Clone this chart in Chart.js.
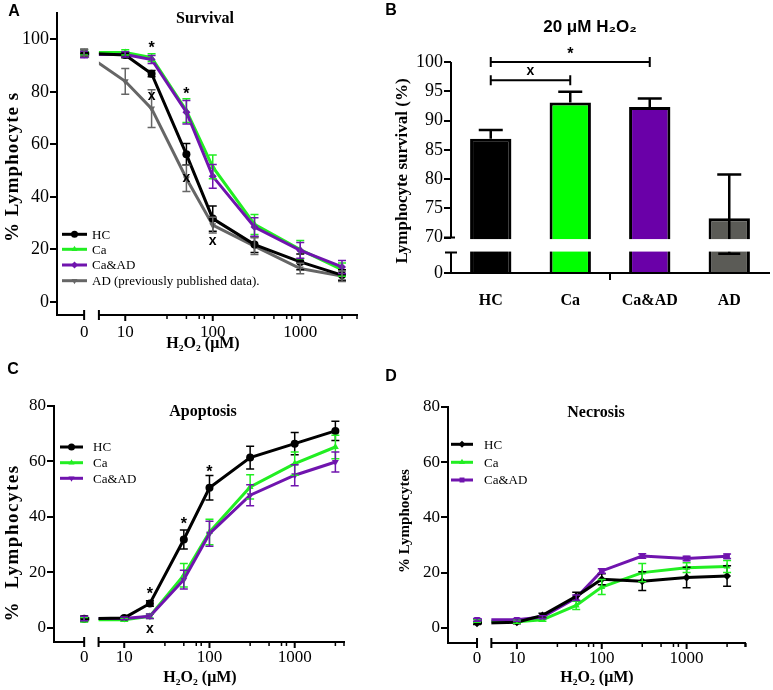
<!DOCTYPE html>
<html>
<head>
<meta charset="utf-8">
<script src="https://cdn.jsdelivr.net/npm/chart.js@4.4.1/dist/chart.umd.min.js"></script>
<style>
  body { margin: 0; background: #fff; }
  #wrap { position: relative; width: 773px; height: 690px; }
  #wrap canvas { position: absolute; left: 0; top: 0; }
</style>
</head>
<body>
<div id="wrap">
  <canvas id="chartA" width="773" height="690"></canvas>
  <canvas id="chartB" width="773" height="690"></canvas>
  <canvas id="chartC" width="773" height="690"></canvas>
  <canvas id="chartD" width="773" height="690"></canvas>
</div>
<script>
const SERIF = '"Liberation Serif", "Times New Roman", serif';
const SANS = '"Liberation Sans", Arial, sans-serif';

// H2O2 concentrations (uM), shared by A, C and D
const concentrations = [0, 10, 20, 50, 100, 300, 1000, 3000];
const xTickLabels = [0, 10, 100, 1000];

// A - survival (%)
const survivalHC = [94.7, 94.0, 86.9, 56.2, 31.7, 21.8, 15.2, 10.2];
const survivalHCErr = [1.5, 1.0, 1.2, 4.1, 4.8, 3.0, 3.0, 2.0];
const survivalCa = [95.0, 95.0, 93.0, 72.8, 51.4, 29.5, 19.9, 12.3];
const survivalCaErr = [1.0, 1.0, 1.5, 4.5, 4.5, 3.8, 3.5, 2.5];
const survivalCaAD = [94.2, 94.2, 92.3, 72.2, 47.8, 28.5, 19.6, 13.3];
const survivalCaADErr = [1.2, 1.0, 1.5, 4.5, 4.5, 3.5, 3.0, 2.5];
const survivalAD = [94.8, 84.0, 73.6, 47.0, 29.2, 21.2, 12.7, 9.8];
const survivalADErr = [1.2, 4.9, 7.2, 5.0, 3.0, 3.2, 2.0, 2.0];
const survivalTicks = [0, 20, 40, 60, 80, 100];

// B - survival at 20 uM
const groupLabels = ['HC', 'Ca', 'Ca&AD', 'AD'];
const barValues = [86.9, 93.1, 92.3, 73.3];
const barErrUp = [1.5, 1.8, 1.45, 7.5];
const barErrDown = [0, 0, 0, 7.5];
const barTicks = [70, 75, 80, 85, 90, 95, 100];

// C - apoptosis (%)
const apoptosisHC = [3.2, 3.5, 8.7, 31.8, 50.5, 61.4, 66.4, 71.0];
const apoptosisHCErr = [1.0, 0.5, 1.0, 3.4, 4.4, 4.1, 4.0, 3.5];
const apoptosisCa = [2.8, 2.8, 4.1, 18.9, 34.5, 50.8, 59.2, 65.2];
const apoptosisCaErr = [0.8, 0.5, 0.8, 4.2, 4.6, 4.4, 4.2, 4.2];
const apoptosisCaAD = [3.3, 3.3, 4.1, 17.3, 33.9, 47.8, 55.0, 59.8];
const apoptosisCaADErr = [0.8, 0.5, 0.8, 3.4, 4.5, 3.8, 3.8, 3.6];

// D - necrosis (%)
const necrosisHC = [1.7, 2.0, 4.5, 11.4, 17.6, 16.9, 18.2, 18.8];
const necrosisHCErr = [0.5, 0.5, 0.8, 1.5, 2.0, 3.4, 3.7, 3.7];
const necrosisCa = [2.5, 2.2, 2.9, 8.1, 14.8, 20.0, 21.8, 22.2];
const necrosisCaErr = [0.5, 0.5, 0.5, 1.5, 2.7, 3.3, 1.8, 2.2];
const necrosisCaAD = [2.9, 2.9, 3.9, 10.9, 20.6, 26.0, 25.1, 25.9];
const necrosisCaADErr = [0.5, 0.5, 0.5, 1.0, 0.8, 0.8, 0.8, 0.8];
const cellTicks = [0, 20, 40, 60, 80];

const HC_COLOR = '#000000';
const CA_COLOR = '#22ee22';
const CAAD_COLOR = '#7014ae';
const AD_COLOR = '#666666';
const BAR_COLORS = ['#000000', '#00ff00', '#6a00a8', '#5b5b56'];

// log axis with a break: 0 sits on its own short segment
const ZERO_POS = 0.53;
const SEG_START = Math.log10(5);
const MINOR = [3, 5, 7, 8];
const xPos = c => c === 0 ? ZERO_POS : Math.log10(c);
const toPoints = vals => vals.map((v, i) => ({ x: xPos(concentrations[i]), y: v }));

// broken y axis of B: 0..70 squeezed under the break
const Y_BASE = 63.95;
const Y_LOW_TOP = 67.44;
const breakY = v => v >= 70 ? v : Y_BASE + v * (Y_LOW_TOP - Y_BASE) / 70;

const textPlugin = {
    id: 'panelText',
    afterDraw(chart, args, opts) {
        const ctx = chart.ctx;
        (opts.items || []).forEach(it => {
            ctx.save();
            ctx.font = it.font;
            ctx.fillStyle = '#000';
            ctx.textAlign = 'center';
            ctx.textBaseline = 'middle';
            if (it.spacing) ctx.letterSpacing = it.spacing;
            ctx.translate(it.x, it.y);
            if (it.rotate) ctx.rotate(it.rotate * Math.PI / 180);
            ctx.fillText(it.text, 0, 0);
            ctx.restore();
        });
    }
};

function drawMark(ctx, text, x, y) {
    const size = text === '*' ? 16 : 14;
    ctx.font = 'bold ' + size + 'px ' + SANS;
    ctx.textAlign = 'center';
    ctx.textBaseline = 'alphabetic';
    ctx.fillStyle = '#000';
    ctx.fillText(text, x, y + size * (text === '*' ? 0.57 : 0.27));
}

const logAxisPlugin = {
    id: 'logAxis',
    beforeDatasetsDraw(chart) {
        const { ctx, scales: { x } } = chart;
        const g0 = x.getPixelForValue(ZERO_POS) + 5;
        const g1 = x.getPixelForValue(SEG_START);
        ctx.save();
        ctx.beginPath();
        ctx.rect(0, 0, g0, chart.height);
        ctx.rect(g1, 0, chart.width - g1, chart.height);
        ctx.clip();
    },
    afterDatasetsDraw(chart, args, opts) {
        const { ctx, chartArea: a, scales: { x, y } } = chart;
        ctx.restore();

        // error bars
        chart.data.datasets.forEach((ds, di) => {
            const meta = chart.getDatasetMeta(di);
            ctx.save();
            ctx.strokeStyle = ds.borderColor;
            ctx.lineWidth = 1.5;
            ds.data.forEach((p, i) => {
                const px = meta.data[i].x;
                const t = y.getPixelForValue(p.y + ds.errors[i]);
                const b = y.getPixelForValue(p.y - ds.errors[i]);
                ctx.beginPath();
                ctx.moveTo(px, t); ctx.lineTo(px, b);
                ctx.moveTo(px - 4, t); ctx.lineTo(px + 4, t);
                ctx.moveTo(px - 4, b); ctx.lineTo(px + 4, b);
                ctx.stroke();
            });
            ctx.restore();
        });

        // broken x axis
        const yb = a.bottom;
        const z = x.getPixelForValue(ZERO_POS);
        const s = x.getPixelForValue(SEG_START);
        ctx.save();
        ctx.strokeStyle = '#000';
        ctx.lineWidth = 2;
        ctx.beginPath();
        ctx.moveTo(a.left - 1, yb); ctx.lineTo(z, yb);
        ctx.moveTo(s, yb); ctx.lineTo(a.right, yb);
        ctx.moveTo(z, yb - 5); ctx.lineTo(z, yb + 5);
        ctx.moveTo(s, yb - 5); ctx.lineTo(s, yb + 5);
        [1, 2, 3].forEach(d => {
            const px = x.getPixelForValue(d);
            ctx.moveTo(px, yb); ctx.lineTo(px, yb + 6);
        });
        ctx.stroke();
        ctx.lineWidth = 1.5;
        ctx.beginPath();
        [10, 100, 1000].forEach(dec => MINOR.forEach(m => {
            const v = Math.log10(m * dec);
            if (v > x.max) return;
            const px = x.getPixelForValue(v);
            ctx.moveTo(px, yb); ctx.lineTo(px, yb + 4);
        }));
        ctx.moveTo(a.right - 1, yb); ctx.lineTo(a.right - 1, yb + 4);
        ctx.stroke();
        ctx.restore();

        // significance marks
        (opts.marks || []).forEach(m => {
            drawMark(ctx, m.t, x.getPixelForValue(xPos(m.c)), y.getPixelForValue(m.v));
        });

        // legend
        const lg = opts.legend;
        chart.data.datasets.forEach((ds, di) => {
            const ly = lg.rows[di];
            ctx.save();
            ctx.strokeStyle = ds.borderColor;
            ctx.fillStyle = ds.borderColor;
            ctx.lineWidth = 3;
            ctx.beginPath();
            ctx.moveTo(lg.x0, ly); ctx.lineTo(lg.x1, ly);
            ctx.stroke();
            Chart.helpers.drawPoint(ctx, { pointStyle: ds.pointStyle, radius: 3.5, rotation: ds.pointRotation || 0, borderWidth: 0 }, (lg.x0 + lg.x1) / 2, ly);
            ctx.font = '13px ' + SERIF;
            ctx.fillStyle = '#000';
            ctx.textAlign = 'left';
            ctx.textBaseline = 'middle';
            ctx.fillText(ds.label, lg.textX, ly + 1);
            ctx.restore();
        });
    }
};

function lineSet(label, values, errors, color, style, rotation, order) {
    return {
        label, errors, order,
        data: toPoints(values),
        borderColor: color,
        backgroundColor: color,
        borderWidth: 3,
        pointStyle: style,
        pointRotation: rotation,
        pointRadius: 4,
        pointBorderWidth: 0,
        tension: 0
    };
}

function makeLineChart(id, cfg) {
    return new Chart(document.getElementById(id), {
        type: 'line',
        data: { datasets: cfg.datasets },
        options: {
            responsive: false,
            animation: false,
            events: [],
            layout: { padding: { left: 0, top: cfg.area.top, right: 773 - cfg.area.right, bottom: 690 - cfg.area.bottom - 40 } },
            plugins: {
                legend: { display: false },
                tooltip: { enabled: false },
                logAxis: { marks: cfg.marks, legend: cfg.legend },
                panelText: { items: cfg.texts }
            },
            scales: {
                x: {
                    type: 'linear',
                    min: cfg.xMin,
                    max: cfg.xMax,
                    afterFit: s => { s.height = 40; },
                    afterBuildTicks: s => { s.ticks = xTickLabels.map(c => ({ value: xPos(c) })); },
                    grid: { display: false, drawTicks: false },
                    border: { display: false },
                    ticks: {
                        autoSkip: false, maxRotation: 0, padding: cfg.xPad, color: '#000',
                        font: { family: SERIF, size: 17 },
                        callback: (v, i) => String(xTickLabels[i])
                    }
                },
                y: {
                    min: cfg.yMin,
                    max: cfg.yMax,
                    afterFit: s => { s.width = cfg.area.left; },
                    afterBuildTicks: s => { s.ticks = cfg.yTicks.map(v => ({ value: v })); },
                    grid: { drawOnChartArea: false, drawTicks: true, tickLength: 7, color: '#000', lineWidth: 2 },
                    border: { display: true, color: '#000', width: 2 },
                    ticks: { padding: 1, color: '#000', font: { family: SERIF, size: cfg.yFont } }
                }
            }
        },
        plugins: [logAxisPlugin, textPlugin]
    });
}

const xTitle = 'H\u2082O\u2082 (\u03bcM)';

// A
makeLineChart('chartA', {
    area: { left: 57, top: 13, right: 358, bottom: 315 },
    xMin: 0.22, xMax: 3.66, yMin: -5, yMax: 110, yTicks: survivalTicks, yFont: 18, xPad: 7,
    datasets: [
        lineSet('HC', survivalHC, survivalHCErr, HC_COLOR, 'circle', 0, 1),
        lineSet('Ca', survivalCa, survivalCaErr, CA_COLOR, 'triangle', 0, 3),
        lineSet('Ca&AD', survivalCaAD, survivalCaADErr, CAAD_COLOR, 'rectRot', 0, 2),
        lineSet('AD (previously published data).', survivalAD, survivalADErr, AD_COLOR, 'triangle', 180, 4)
    ],
    marks: [
        { c: 20, v: 98.4, t: '*' }, { c: 50, v: 80.6, t: '*' },
        { c: 20, v: 78.3, t: 'x' }, { c: 50, v: 47.0, t: 'x' }, { c: 100, v: 23.2, t: 'x' }
    ],
    legend: { rows: [234.3, 249.3, 265, 280.7], x0: 62, x1: 87, textX: 92 },
    texts: [
        { text: 'A', x: 14, y: 12, font: 'bold 16px ' + SANS },
        { text: 'Survival', x: 205, y: 19, font: 'bold 16px ' + SERIF },
        { text: '% Lymphocyte s', x: 13, y: 167, rotate: -90, spacing: '1px', font: 'bold 19px ' + SERIF },
        { text: xTitle, x: 203, y: 344, font: 'bold 16px ' + SERIF }
    ]
});

// C
makeLineChart('chartC', {
    area: { left: 54, top: 406, right: 345, bottom: 642 },
    xMin: 0.176, xMax: 3.59, yMin: -5.2, yMax: 80, yTicks: cellTicks, yFont: 17, xPad: 5,
    datasets: [
        lineSet('HC', apoptosisHC, apoptosisHCErr, HC_COLOR, 'circle', 0, 1),
        lineSet('Ca', apoptosisCa, apoptosisCaErr, CA_COLOR, 'triangle', 0, 3),
        lineSet('Ca&AD', apoptosisCaAD, apoptosisCaADErr, CAAD_COLOR, 'triangle', 180, 2)
    ],
    marks: [
        { c: 20, v: 13.5, t: '*' }, { c: 50, v: 38.8, t: '*' }, { c: 100, v: 57.5, t: '*' },
        { c: 20, v: -0.6, t: 'x' }
    ],
    legend: { rows: [447, 462.7, 478.3], x0: 60, x1: 83, textX: 93 },
    texts: [
        { text: 'C', x: 13, y: 370, font: 'bold 16px ' + SANS },
        { text: 'Apoptosis', x: 203, y: 412, font: 'bold 16px ' + SERIF },
        { text: '%  Lymphocytes', x: 13, y: 543, rotate: -90, spacing: '1.5px', font: 'bold 19px ' + SERIF },
        { text: xTitle, x: 200, y: 678, font: 'bold 16px ' + SERIF }
    ]
});

// D
makeLineChart('chartD', {
    area: { left: 448, top: 407, right: 746, bottom: 643 },
    xMin: 0.188, xMax: 3.70, yMin: -5.5, yMax: 80, yTicks: cellTicks, yFont: 17, xPad: 5,
    datasets: [
        lineSet('HC', necrosisHC, necrosisHCErr, HC_COLOR, 'rectRot', 0, 1),
        lineSet('Ca', necrosisCa, necrosisCaErr, CA_COLOR, 'triangle', 0, 3),
        lineSet('Ca&AD', necrosisCaAD, necrosisCaADErr, CAAD_COLOR, 'rect', 0, 2)
    ],
    marks: [],
    legend: { rows: [444.3, 462.3, 480], x0: 451, x1: 473, textX: 484 },
    texts: [
        { text: 'D', x: 391, y: 377, font: 'bold 16px ' + SANS },
        { text: 'Necrosis', x: 596, y: 413, font: 'bold 16px ' + SERIF },
        { text: '% Lymphocytes', x: 405, y: 521, rotate: -90, font: 'bold 15px ' + SERIF },
        { text: xTitle, x: 597, y: 678, font: 'bold 16px ' + SERIF }
    ]
});

// B
const barBreakPlugin = {
    id: 'barBreak',
    afterDatasetsDraw(chart, args, opts) {
        const { ctx, chartArea: a, scales: { x, y } } = chart;
        const ds = chart.data.datasets[0];
        const meta = chart.getDatasetMeta(0);
        ctx.save();
        ctx.strokeStyle = '#000';
        ctx.lineWidth = 2.5;
        ds.data.forEach((v, i) => {
            const px = meta.data[i].x;
            const top = y.getPixelForValue(v + ds.errUp[i]);
            ctx.beginPath();
            ctx.moveTo(px, y.getPixelForValue(v)); ctx.lineTo(px, top);
            ctx.moveTo(px - 12, top); ctx.lineTo(px + 12, top);
            if (ds.errDown[i] > 0) {
                const bot = y.getPixelForValue(breakY(v - ds.errDown[i]));
                ctx.moveTo(px, y.getPixelForValue(v)); ctx.lineTo(px, bot);
                ctx.moveTo(px - 11, bot); ctx.lineTo(px + 11, bot);
            }
            ctx.stroke();
        });

        // white band of the axis break
        const y70 = y.getPixelForValue(70);
        const yLow = y.getPixelForValue(Y_LOW_TOP);
        ctx.fillStyle = '#fff';
        ctx.fillRect(a.left + 2, y70 + 1.5, a.right - a.left, yLow - y70 - 2.5);

        // broken y axis
        ctx.lineWidth = 2;
        ctx.beginPath();
        ctx.moveTo(a.left, y.getPixelForValue(100)); ctx.lineTo(a.left, y70);
        ctx.moveTo(a.left - 7, y70); ctx.lineTo(a.left + 4, y70);
        ctx.moveTo(a.left, yLow); ctx.lineTo(a.left, a.bottom);
        ctx.moveTo(a.left - 6, yLow); ctx.lineTo(a.left + 6, yLow);
        const mid = (x.getPixelForValue(1) + x.getPixelForValue(2)) / 2;
        ctx.moveTo(mid, a.bottom); ctx.lineTo(mid, a.bottom + 7);
        ctx.stroke();

        // comparison brackets
        ctx.lineWidth = 2;
        (opts.brackets || []).forEach(br => {
            const x0 = x.getPixelForValue(br.from);
            const x1 = x.getPixelForValue(br.to);
            const by = y.getPixelForValue(br.v);
            ctx.beginPath();
            ctx.moveTo(x0, by); ctx.lineTo(x1, by);
            ctx.moveTo(x0, by - 5); ctx.lineTo(x0, by + 5);
            ctx.moveTo(x1, by - 5); ctx.lineTo(x1, by + 5);
            ctx.stroke();
            drawMark(ctx, br.t, (x0 + x1) / 2, by - (br.t === '*' ? 12 : 9));
        });
        ctx.restore();
    }
};

new Chart(document.getElementById('chartB'), {
    type: 'bar',
    data: {
        labels: groupLabels,
        datasets: [{
            data: barValues,
            errUp: barErrUp,
            errDown: barErrDown,
            base: Y_BASE,
            backgroundColor: BAR_COLORS,
            borderColor: '#000',
            borderWidth: 3,
            barPercentage: 0.52,
            categoryPercentage: 1
        }]
    },
    options: {
        responsive: false,
        animation: false,
        events: [],
        layout: { padding: { left: 0, top: 62, right: 4, bottom: 690 - 273 - 45 } },
        plugins: {
            legend: { display: false },
            tooltip: { enabled: false },
            barBreak: {
                brackets: [
                    { from: 0, to: 2, v: 100, t: '*' },
                    { from: 0, to: 1, v: 96.9, t: 'x' }
                ]
            },
            panelText: {
                items: [
                    { text: 'B', x: 391, y: 11, font: 'bold 16px ' + SANS },
                    { text: '20 \u03bcM H\u2082O\u2082', x: 590, y: 27, font: 'bold 17px ' + SANS },
                    { text: 'Lymphocyte survival (%)', x: 403, y: 171, rotate: -90, font: 'bold 17px ' + SERIF }
                ]
            }
        },
        scales: {
            x: {
                afterFit: s => { s.height = 45; },
                grid: { display: false, drawTicks: false },
                border: { display: true, color: '#000', width: 2 },
                ticks: { padding: 18, color: '#000', font: { family: SERIF, size: 16, weight: 'bold' } }
            },
            y: {
                min: Y_BASE,
                max: 100,
                afterFit: s => { s.width = 451; },
                afterBuildTicks: s => { s.ticks = [Y_BASE, ...barTicks].map(v => ({ value: v })); },
                grid: { drawOnChartArea: false, drawTicks: true, tickLength: 7, color: '#000', lineWidth: 2 },
                border: { display: false },
                ticks: {
                    padding: 1, color: '#000', font: { family: SERIF, size: 18 },
                    callback: v => v === Y_BASE ? '0' : String(v)
                }
            }
        }
    },
    plugins: [barBreakPlugin, textPlugin]
});
</script>
</body>
</html>
